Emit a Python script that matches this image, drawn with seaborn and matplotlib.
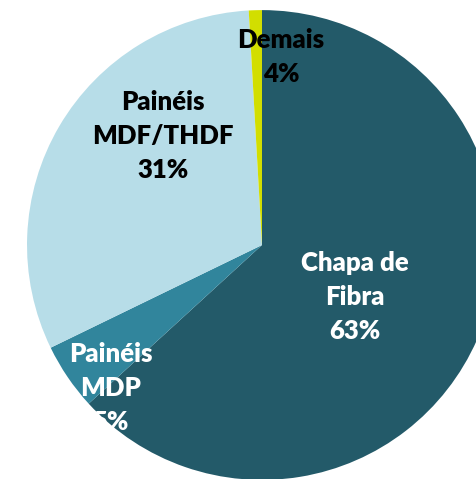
"""Pie chart: market share by product (Chapa de Fibra, Painéis MDP, MDF/THDF, Demais)."""
import matplotlib
matplotlib.use("Agg")
import matplotlib.pyplot as plt
import seaborn as sns

# slice sizes (clockwise from 12 o'clock)
categories = ["Chapa de\nFibra", "Painéis\nMDP", "Painéis\nMDF/THDF", "Demais"]
shares = [63.2, 4.6, 31.3, 0.9]
# percentages as printed on the chart
pct_labels = ["63%", "5%", "31%", "4%"]
colors = ["#235A69", "#31859C", "#B7DDE8", "#D2DE00"]
text_colors = ["white", "white", "black", "black"]
# label anchor, in data units around a unit-radius pie
label_pos = [(0.395, -0.22), (-0.645, -0.61), (-0.42, 0.465), (0.08, 0.8)]

sns.set_theme(style="white")
plt.rcParams["font.family"] = ["Lato", "DejaVu Sans"]

fig = plt.figure(figsize=(4.77, 4.79), dpi=100)
ax = fig.add_axes([0, 0, 1, 1])
ax.pie(shares, colors=colors, startangle=90, counterclock=False,
       radius=1.0, wedgeprops=dict(linewidth=0))
ax.set_xlim(-1.115, 0.915)
ax.set_ylim(-0.996, 1.043)
ax.set_aspect("auto")
ax.axis("off")

for cat, pct, (x, y), tc in zip(categories, pct_labels, label_pos, text_colors):
    ax.text(x, y, f"{cat}\n{pct}", ha="center", va="center", color=tc,
            fontsize=18.5, fontweight="heavy", linespacing=1.5)

fig.savefig("out.png", dpi=100, facecolor="white")
